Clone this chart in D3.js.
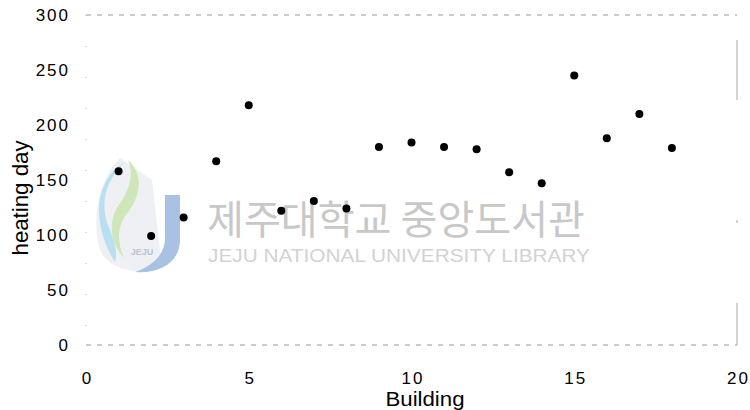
<!DOCTYPE html>
<html><head><meta charset="utf-8">
<script src="https://cdn.jsdelivr.net/npm/d3@7/dist/d3.min.js"></script>
<style>
html,body{margin:0;padding:0;background:#fff;}
svg{display:block;font-family:"Liberation Sans",Arial,sans-serif;}
</style></head>
<body><svg id="c" width="750" height="410"></svg>
<script>
const buildings = [1,2,3,4,5,6,7,8,9,10,11,12,13,14,15,16,17,18];
const heatingDays = [158,99,116,167,218,122,131,124,180,184,180,178,157,147,245,188,210,179];
const xTicks = [0,5,10,15,20];
const yTicks = [0,50,100,150,200,250,300];
const xLabel = "Building";
const yLabel = "heating day";
const wmKo = "제주대학교 중앙도서관";
const wmEn = "JEJU NATIONAL UNIVERSITY LIBRARY";

const svg = d3.select("#c");
const L = 86, R = 737, T = 15, B = 345;
const x = d3.scaleLinear().domain([0,20]).range([L,R]);
const y = d3.scaleLinear().domain([0,300]).range([B,T]);

// watermark
const wm = svg.append("g").attr("class","watermark");
wm.append("path").attr("d","M120,158 C96,182 92,225 100,250 C108,270 140,276 162,268 L152,180 Z")
  .attr("fill","#eef0f4");
wm.append("path").attr("d","M125,162 C105,180 100,205 108,225 C114,240 118,250 115,262 C104,245 96,220 100,198 C104,180 114,168 125,162 Z")
  .attr("fill","#b9dff0");
wm.append("path").attr("d","M128,160 C145,175 140,198 126,215 C116,228 118,245 124,258 C110,242 108,222 118,206 C130,190 134,175 128,160 Z")
  .attr("fill","#cfe6b8");
wm.append("path").attr("d","M165,195 L180,195 L180,240 C180,262 160,274 135,272 C152,266 165,255 165,238 Z")
  .attr("fill","#a9c2e4");
wm.append("text").attr("x",142).attr("y",255).attr("text-anchor","middle")
  .attr("font-size",9).attr("font-weight","bold").attr("fill","#b8c4d8").text("JEJU");
wm.append("text").attr("x",207).attr("y",234).attr("font-size",40)
  .attr("font-family","'Noto Sans CJK KR',sans-serif").attr("fill","#c8c8c8")
  .attr("textLength",378).attr("lengthAdjust","spacingAndGlyphs").text(wmKo);
wm.append("text").attr("x",208).attr("y",262).attr("font-size",18)
  .attr("fill","#d2d2d2").attr("textLength",382).attr("lengthAdjust","spacingAndGlyphs").text(wmEn);

// frame (faint dashed as in the scan)
svg.append("line").attr("x1",L).attr("x2",R).attr("y1",T).attr("y2",T)
  .attr("stroke","#999").attr("stroke-dasharray","5,6").attr("stroke-width",1);
svg.append("line").attr("x1",L).attr("x2",R).attr("y1",B).attr("y2",B)
  .attr("stroke","#999").attr("stroke-dasharray","5,6").attr("stroke-width",1);
svg.append("line").attr("x1",L).attr("x2",L).attr("y1",T).attr("y2",B)
  .attr("stroke","#bbb").attr("stroke-dasharray","1,30").attr("stroke-width",1);
svg.append("line").attr("x1",R).attr("x2",R).attr("y1",T+25).attr("y2",B)
  .attr("stroke","#aaa").attr("stroke-dasharray","60,120,3,80").attr("stroke-width",1);

// axes
const gx = svg.append("g").attr("transform",`translate(0,${B})`)
  .call(d3.axisBottom(x).tickValues(xTicks).tickSize(0).tickPadding(26.5).tickFormat(d3.format("d")));
gx.select(".domain").remove();
gx.selectAll("text").attr("font-size",17).attr("fill","#000").attr("font-family","'Liberation Sans',Arial,sans-serif")
  .attr("letter-spacing","2px").attr("dx","1px");

const gy = svg.append("g").attr("transform",`translate(${L},0)`)
  .call(d3.axisLeft(y).tickValues(yTicks).tickSize(0).tickPadding(16).tickFormat(d3.format("d")));
gy.select(".domain").remove();
gy.selectAll("text").attr("font-size",17).attr("fill","#000").attr("font-family","'Liberation Sans',Arial,sans-serif").attr("letter-spacing","2px");

svg.append("text").attr("x",425).attr("y",406).attr("text-anchor","middle")
  .attr("font-size",20).attr("textLength",79).attr("lengthAdjust","spacingAndGlyphs").text(xLabel);
svg.append("text").attr("transform","translate(28,198) rotate(-90)").attr("text-anchor","middle")
  .attr("font-size",21.5).attr("textLength",115).attr("lengthAdjust","spacingAndGlyphs").text(yLabel);

// points
svg.append("g").selectAll("circle").data(buildings).join("circle")
  .attr("cx",(d)=>x(d)).attr("cy",(d,i)=>y(heatingDays[i])).attr("r",4).attr("fill","#000");
</script></body></html>
